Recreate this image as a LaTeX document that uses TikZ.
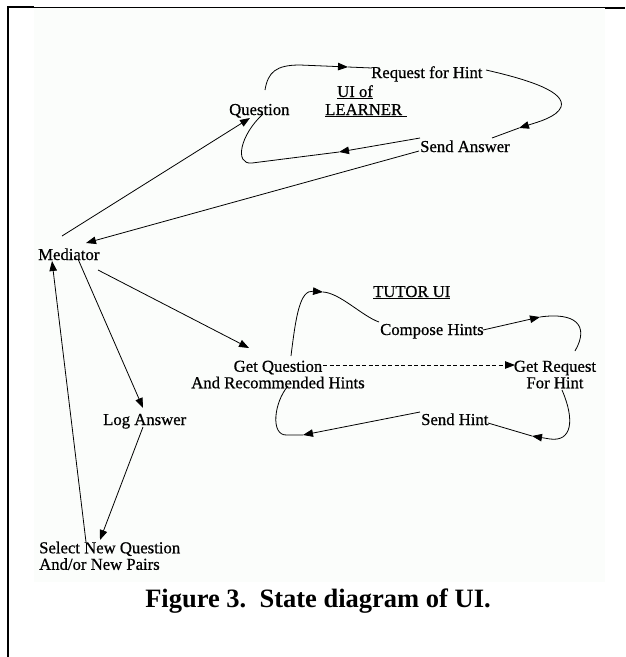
\documentclass[tikz,border=0pt]{standalone}
\usepackage{fontspec}
\setmainfont{Liberation Serif}
\newfontface\lblface{Liberation Serif}[FakeBold=0.7]
\usetikzlibrary{arrows.meta}
\definecolor{bgc}{RGB}{251,253,251}
\begin{document}
\begin{tikzpicture}[x=1pt,y=-1pt,
  lbl/.style={inner sep=0pt, font=\lblface\fontsize{16.7}{16.5}\selectfont},
  conn/.style={line width=0.8pt},
  arr/.style={conn, -{Triangle[length=10pt,width=7.5pt]}},
  frame/.style={line width=2pt}
]
\useasboundingbox (0,0) rectangle (625,657);
\fill[white] (0,0) rectangle (625,657);
\fill[bgc] (34,8) rectangle (605,582);
\draw[frame] (8,657) -- (8,7) -- (34,7);
\draw[line width=1pt] (34,7) -- (605,7);
\draw[frame] (605,7.5) -- (625,7.5);

% ---------- labels ----------
\node[lbl, anchor=base west] (q) at (229,115) {Question};
\node[lbl, anchor=base west] (uiof) at (337,97) {\underline{UI of}};
\node[lbl, anchor=base west] (learner) at (325,115) {\underline{LEARNER\kern5pt}};
\node[lbl, anchor=base west] (req) at (371,78) {Request for Hint};
\node[lbl, anchor=base west] (sa) at (420,152) {Send Answer};
\node[lbl, anchor=base west] (med) at (38,260) {Mediator};
\node[lbl, anchor=base west] (tutor) at (373,297) {\underline{TUTOR UI}};
\node[lbl, anchor=base west] (comp) at (380,335) {Compose Hints};
\node[lbl, anchor=north, align=center] (gq) at (278,360.5) {Get Question\\And Recommended Hints};
\node[lbl, anchor=north, align=center] (gr) at (555,360.5) {Get Request\\For Hint};
\node[lbl, anchor=base west] (log) at (103,425) {Log Answer};
\node[lbl, anchor=base west] (sh) at (421,425) {Send Hint};
\node[lbl, anchor=north west, align=left] (sel) at (39,541.5) {Select New Question\\And/or New Pairs};
\node[inner sep=0pt, anchor=base, font=\fontsize{26.5}{30}\selectfont\bfseries] (cap) at (318,607) {Figure 3.\ \ State diagram of UI.};

% ---------- attachment points ----------
\coordinate (qUp) at (265,90);
\coordinate (tA) at (348,67);
\coordinate (reqL) at (372,68);
\coordinate (reqR) at (486,70);
\coordinate (tB) at (519,128);
\coordinate (saTop) at (492,138);
\coordinate (saL) at (420,138);
\coordinate (tC) at (339,152);
\coordinate (qDn) at (263,114);
\coordinate (qIn) at (250,118);
\coordinate (mTop) at (62,236);
\coordinate (saL2) at (419,151);
\coordinate (mIn) at (86,243);
\coordinate (mR) at (98,270);
\coordinate (gqIn) at (249,348);
\coordinate (mB) at (78,259);
\coordinate (logIn) at (143,408);
\coordinate (logOut) at (143,427);
\coordinate (selIn) at (100,540);
\coordinate (selOut) at (86,542);
\coordinate (mIn2) at (52,261);
\coordinate (gqTop) at (291,356);
\coordinate (tD) at (323,292);
\coordinate (chL) at (379,322);
\coordinate (chR) at (483,330);
\coordinate (tE) at (540,317);
\coordinate (grTop) at (575,351);
\coordinate (grBot) at (562,390);
\coordinate (tF) at (532,436);
\coordinate (shR) at (488,423);
\coordinate (shL) at (420,412);
\coordinate (tG) at (303,435);
\coordinate (gqBot) at (288,386);
\coordinate (gqR) at (323,365);
\coordinate (grIn) at (515,365);

% ---------- learner UI loop ----------
\draw[arr] (qUp) .. controls (268,72) and (276,65) .. (300,65) -- (tA);
\draw[conn] (tA) -- (reqL);
\draw[arr] (reqR) .. controls (530,80) and (566,92) .. (561,107) .. controls (557,117) and (538,122) .. (tB);
\draw[conn] (tB) -- (saTop);
\draw[arr] (saL) -- (tC);
\draw[conn] (tC) -- (252,163) .. controls (234,165) and (240,135) .. (qDn);

% ---------- mediator connections ----------
\draw[arr] (mTop) -- (qIn);
\draw[arr] (saL2) -- (mIn);
\draw[arr] (mR) -- (gqIn);
\draw[arr] (mB) -- (logIn);
\draw[arr] (logOut) -- (selIn);
\draw[arr] (selOut) -- (mIn2);

% ---------- tutor UI loop ----------
\draw[arr] (gqTop) .. controls (296,315) and (300,290) .. (tD);
\draw[conn] (tD) .. controls (340,293) and (362,316) .. (chL);
\draw[arr] (chR) -- (tE);
\draw[conn] (tE) .. controls (575,312) and (590,325) .. (grTop);
\draw[arr] (grBot) .. controls (575,420) and (572,442) .. (550,439) -- (tF);
\draw[conn] (tF) -- (shR);
\draw[arr] (shL) -- (tG);
\draw[conn] (tG) -- (287,435) .. controls (270,436) and (274,402) .. (gqBot);
\draw[arr, dash pattern=on 4pt off 2.5pt] (gqR) -- (grIn);
\end{tikzpicture}
\end{document}
